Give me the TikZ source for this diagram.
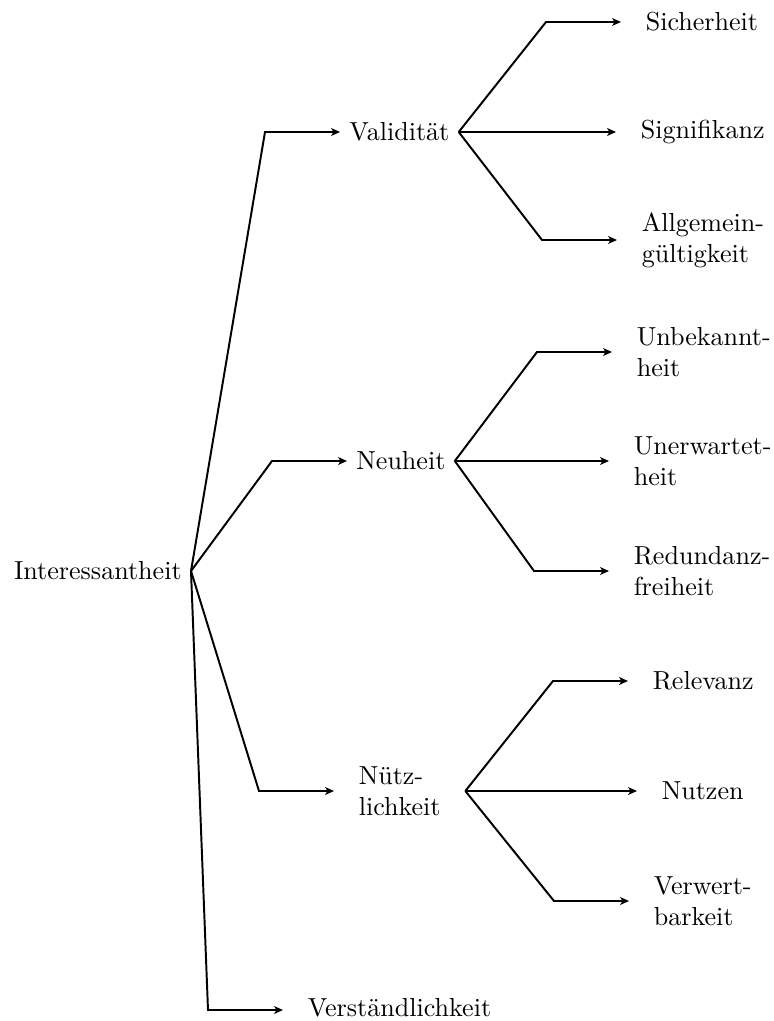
\documentclass[tikz,border=0pt]{standalone}
\usepackage{fontspec}
\usetikzlibrary{arrows.meta,calc}

\tikzset{
  every node/.style={inner ysep=2pt},
  inner/.style={anchor=west, inner xsep=3.4pt},
  wide/.style={anchor=west, inner xsep=9.3pt, align=left},
  leaf/.style={anchor=west, inner xsep=9.3pt, align=left},
  link/.style={line width=0.75pt, -{Stealth[length=3.4pt,width=3pt,inset=0.9pt]}},
}

\begin{document}
\begin{tikzpicture}[x=0.3837pt, y=-0.3837pt]
\useasboundingbox (0,0) rectangle (773,1021);

% root
\node[anchor=east, inner xsep=3.4pt] (root) at (191,571) {Interessantheit};

% first level
\node[inner] (val)   at (340,132)  {Validität};
\node[inner] (neu)   at (347,461)  {Neuheit};
\node[wide]  (nuetz) at (334,791)  {Nütz-\\lichkeit};
\node[wide, inner ysep=0.5pt, text depth=1.6pt] (verst) at (283,1010) {Verständlichkeit};

% leaves below Validität
\node[leaf] (sich) at (621,22)  {Sicherheit};
\node[leaf] (sign) at (616,132) {Signifikanz};
\node[leaf] (allg) at (617,240) {Allgemein-\\gültigkeit};

% leaves below Neuheit
\node[leaf] (unbek) at (612,352) {Unbekannt-\\heit};
\node[leaf] (unerw) at (609,461) {Unerwartet-\\heit};
\node[leaf] (redun) at (609,571) {Redundanz-\\freiheit};

% leaves below Nützlichkeit
\node[leaf] (relev) at (628,681) {Relevanz};
\node[leaf] (nutz)  at (637,791) {Nutzen};
\node[leaf] (verw)  at (629,901) {Verwert-\\barkeit};

% fork edges: slanted run, then a horizontal arrow of fixed length
\foreach \p/\c in {root/val, root/neu, root/nuetz, root/verst,
                   val/sich, val/sign, val/allg,
                   neu/unbek, neu/unerw, neu/redun,
                   nuetz/relev, nuetz/nutz, nuetz/verw}
  \draw[link] (\p.east) -- ($(\c.west)+(-75,0)$) -- (\c.west);
\end{tikzpicture}
\end{document}
